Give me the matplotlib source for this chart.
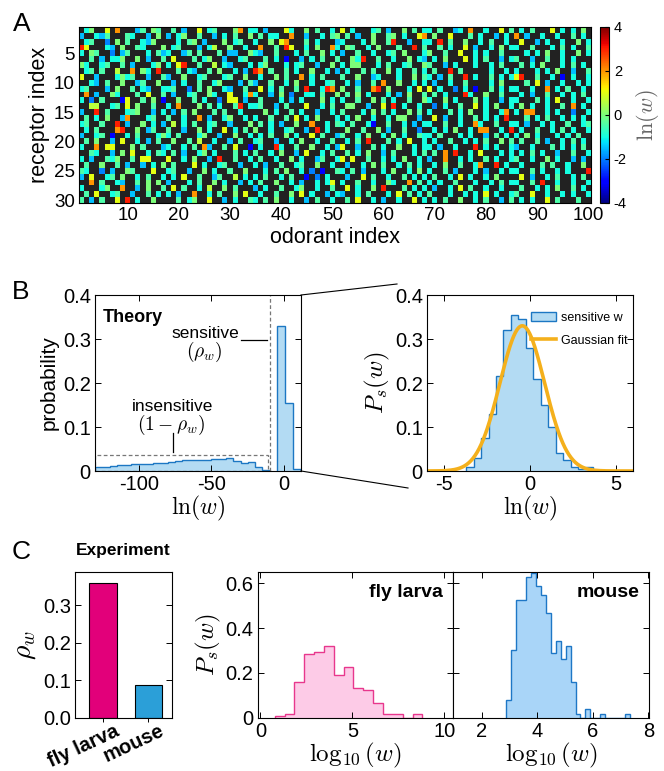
import numpy as np
import matplotlib
matplotlib.use("Agg")
import matplotlib.pyplot as plt
from matplotlib.lines import Line2D
from matplotlib.patches import Patch, Rectangle
from matplotlib.transforms import ScaledTranslation

plt.rcParams["font.family"] = ["Liberation Sans", "DejaVu Sans"]
plt.rcParams["mathtext.fontset"] = "cm"
plt.rcParams["axes.unicode_minus"] = False
plt.rcParams["axes.linewidth"] = 0.8

# ── A: sensitivity matrix, one string per receptor, one char per odorant ──
# '.' = insensitive (black), other chars = ln(w) level
LEVELS = {"1": -3.0, "2": -2.0, "3": -1.5, "4": -1.0, "5": -0.45, "6": 0.0,
          "7": 0.6, "8": 1.0, "9": 2.0, "r": 3.0}

cols_01_17 = [
    ".46..8.9...35.65.", "3..435...54..3.6.", ".45..2.6.5..436..", "r8...43.6..54...6",
    "4.65..2.35...4.53", "..5.3.446..6.3..5", "64..45..5.3...46.", ".45.5..7..9.64.r.",
    "8..3...4645..3..5", "..43.5..6..35..6.", "45...3.6..5.43..4", ".9.3..64...5.8..5",
    "4.2.5...18..5.6.1", "..77..45.8.6..5..", "3..r.5...456..3.4", ".5.4.6..39...45..",
    "45..5..r.3..6.4.3", ".4.5...9r..6.35..", "3..45.1..4.5...46", ".5.6..3.8..4.3.5.",
    "4..9.88...6.5...3", "..54..3.6.8..4.54", "4.3..546..5.88...", ".5..6..5.3..3.4.6",
    "54..2.3..65...8..", "3.8..45.6..4.5..4", "..9.5..43..5.6.6.", "4...46..9..3.6..5",
    ".5.8..45..3..5.4.", "5.3.5..8.r.4..6..",
]
cols_18_34 = [
    ".5.3..8.45...69.4", "3.46..5..3.4.5..6", "..4.56.3...6.45..", ".45...3.47..6..4.",
    "4..35.5...5.33..6", ".8...5.46..3..45.", "4.8r..5..7.43...4", "..5.43..5.6..4.3.",
    "3..6..45...45..6.", ".3.4..5..46...3.5", "45..2.5.6..43..5.", ".3..45..64..8..49",
    "..6..5.4..2.88.3.", "4.9...6.5.4..5r.4", ".3.5.6...5.5..4..", "5..4..9.3..46..4.",
    ".7.4.5..45..3...6", "5..3..6.4..8.4.5.", "4.5...46..3..6..4", ".6..5.7..4..3.5..",
    "4..4.5.93..5.8..1", ".5.3..46.4...5.4.", "8..4.6..3.r..5..4", ".5...8.4..45..3..",
    "45..3..6.4..5..6.", ".4.8..5..35..7.4.", "3...4.5..6.4..3.4", ".8.5..4.7..6.5...",
    "4.3..9..4.5..6.8.", "..5.46..8..3.4..5",
]
cols_35_51 = [
    "4.3...84..6.5..4.", ".5.44..9..3..4.56", "4..6.89...5.4...3", ".9..5.r8..4.6..94",
    "43..5...4.5..6.4.", "..5.4.1..3.4.5..5", ".46...4.45..3..6.", "r9.5..5.4..6..4.3",
    ".4..6.5..9.4.5...", "3..5..4.6..4..45.", ".8.4.5..5.r..4r9.", "4..3.6.2..44.5..6",
    ".5...4.3.4...6.4.", "45..3.5...8..4.5.", "..6.4..5.4..3..4.", "4..5..5.8.4.6...4",
    ".5.4.3..6..9..4.5", "6..4..45..3.r.4..", ".4.5..6.4..8.5..3", "45..3..4.6..4..5.",
    ".4..r4..5..6..4.3", "5..4.6..3.8..4.5.", ".5..4..6.4..35..4", "4.3..5..45..6..4.",
    "..4.5.6..4.2.1..5", "4.5..4.5..1.2.4..", ".5..6..4.3..4.48.", "3.4..5..46..4..5.",
    ".4..5..6.8.4..3.4", "4.5.6..4..3.5..4.",
]
cols_52_68 = [
    "8.4...45.3..6.5.4", ".5.3..6..56.4..89", "4...4.6..5r..3..4", ".65..4.6...5..r.5",
    "3..5..4..45.6...4", "..64r..5..4..6.43", "4.66...4.5..45..6", ".4..5.5..6.4..5.4",
    "5..6..34...4..6.5", ".4.3..5.9..6..4.4", "6..5..9r.6...4.8.", ".5.6.4...4.3.6..5",
    "4..5..6.5.4..5..6", ".66..3..8.r.4..4.", "5...4.6.5.4..6.5.", ".4.6..4..4.66..3.",
    "4.5..41..5..4.3.4", ".6..5..6.3..5..2.", "5..4.6..4.6.4..54", ".4.5.r...5.4.8..4",
    "8..3..5.4..6..4.4", ".5.4.6..3.5...4.5", "8.8..5..4.4.6..4.", ".3..4.6.5..4.5.4.",
    "4.5.3...4.6..4.6.", ".3..8.5..4..5.4.4", "4..5..4..64..9.5.", ".8.4..6.r...5.4.4",
    "3..4.5...4.8.5.4.", ".5.8..4.3..4..8.4",
]
cols_69_85 = [
    "4.5..34.9..4..8.5", ".6..8...5.4..3.4.", "4.r.5..6..4.5..4.", "..5.4..8.3..4.6.4",
    "6..5..8..4.4..5..", ".4.6...8.4.5..3.4", "5..3.4...4..4.5..", ".5..r.5.....4..4.",
    "4.3.5..r.4..5.4.4", ".3..4..5....4.6..", "8.4..2.4.1..5.4.4", ".5.4...r4..6..5..",
    "4..6.4...6.4..3.4", ".2.4..5..8.4.6..4", "4...5.4.6..4..49.", ".8.3..4..5.4.4.r.",
    "4..5..4..94..5..4", ".4.4.6..4.99..4.r", "4.5...4.4..3.5.4.", ".4..5..4.4.5..6.5",
    "4.3..4...r.4.4..4", ".5.9.r..4.8...4.4", "3..9..4.4..5.4..4", ".4.6..5..49..r.4.",
    "4..5.3...4.3..4.4", ".5..4.8.4..4.6...", "4.4..5...4..4.5.4", ".3..4.8.5..4..4..",
    "5...4..4.4.8.4..4", ".4.5..6..4.5..3.5",
]
cols_86_100 = [
    ".4.5...8.4.4.6.", "9.3..4..4..5.4.", ".8..3.4..4..6.4", "4..5...4.5.4..5",
    "..4.4.6..4..6.4", "5..3..5..4.4...", ".5.4.6...4.5.4.", "4...4.4.6..3..5",
    "8r..5..4.1.4..4", "..5.8.3..4..4.4", "4..4..9.4.5..4.", ".4.3..5..4.4.5.",
    "4...5.4.8..4..4", ".6.4..4..5.9.4.", "4.99..4.4..2..4", "..5.4.5..4.4.4.",
    "4.3..4.4..5..45", ".4..5..4.5.4..4", "4.6.4...4.4.5..", ".5..5.3..4.5.4.",
    "3..4...5.4.4.5.", ".4.5.4..3..5..4", "5..4..6.4..3.3.", ".4...5.5..4..6.",
    "4..5.4..4.4...r", ".8.3..4.5..4.5.", "4..5.r..4..4..4", ".5..4.4.6..5.4.",
    "5..8..4..4.4..4", ".4.4..8.5...5..",
]

# ── B: theory histograms ──
insens_edges = np.arange(-130, -9, 5)
insens_prob = [0.008, 0.009, 0.011, 0.013, 0.014, 0.015, 0.015, 0.017, 0.018, 0.019,
               0.020, 0.022, 0.025, 0.025, 0.026, 0.026, 0.027, 0.028, 0.029, 0.023,
               0.019, 0.021, 0.008, 0.002]
sens_edges = [-5.0, 0.5, 6.0, 11.5]
sens_prob = [0.33, 0.155, 0.005]

zoom_edges = -3.72 + 0.435 * np.arange(18)
zoom_dens = [0.008, 0.03, 0.075, 0.13, 0.215, 0.32, 0.355, 0.345, 0.28, 0.21,
             0.15, 0.10, 0.04, 0.025, 0.01, 0.005, 0.008]
fit_amp, fit_mu, fit_sigma = 0.33, -0.45, 1.3

# ── C: experiment ──
species = ["fly larva", "mouse"]
rho_w = [0.359, 0.087]
bar_colors = ["#E2007A", "#2B9FD8"]

fly_edges = 0.78 + 0.535 * np.arange(16)
fly_dens = [0.007, 0.015, 0.161, 0.285, 0.293, 0.322, 0.191, 0.224, 0.131, 0.124,
            0.064, 0.016, 0.016, 0.0, 0.015]
mouse_edges = 2.885 + 0.1777 * np.arange(26)
mouse_dens = [0.081, 0.30, 0.525, 0.525, 0.627, 0.645, 0.588, 0.548, 0.466, 0.287,
              0.343, 0.264, 0.319, 0.16, 0.018, 0.0, 0.04, 0.0, 0.0, 0.018,
              0.0, 0.0, 0.0, 0.0, 0.018]

W, H = 664, 771
TICK = 14.5


def px_axes(fig, x0, y0, x1, y1):
    """axes from pixel box (top-left origin)"""
    return fig.add_axes([x0 / W, 1 - y1 / H, (x1 - x0) / W, (y1 - y0) / H])


def style(ax, size=TICK):
    ax.tick_params(direction="in", length=4, width=0.7, labelsize=size,
                   top=True, right=True, pad=3)


fig = plt.figure(figsize=(W / 100, H / 100), dpi=100)

# ── Panel A ──
blocks = [cols_01_17, cols_18_34, cols_35_51, cols_52_68, cols_69_85, cols_86_100]
rows = ["".join(parts).ljust(100, ".")[:100] for parts in zip(*blocks)]
mat = np.array([[LEVELS.get(ch, np.nan) for ch in r] for r in rows])

cmap = plt.get_cmap("jet").copy()
cmap.set_bad("#222222")
axA = px_axes(fig, 79, 27, 591, 203)
im = axA.imshow(np.ma.masked_invalid(mat), cmap=cmap, vmin=-4, vmax=4, aspect="auto",
                interpolation="nearest", extent=(0.5, 100.5, 30.5, 0.5))
axA.set_xticks(np.arange(10, 101, 10))
axA.set_yticks(np.arange(5, 31, 5))
axA.tick_params(direction="in", length=0, labelsize=13.5, pad=3)
axA.set_xlabel("odorant index", fontsize=15.5, labelpad=2)
axA.set_ylabel("receptor index", fontsize=15.5, labelpad=3)

cax = px_axes(fig, 600, 27, 609, 203)
cb = fig.colorbar(im, cax=cax, ticks=[-4, -2, 0, 2, 4])
cb.ax.tick_params(labelsize=10.5, length=3, direction="in")
cb.outline.set_linewidth(0.8)
cb.set_label(r"$\ln(w)$", fontsize=16, color="#666666", labelpad=5)

# ── Panel B left ──
fill_b, edge_b = "#B3DBF3", "#1C77C3"
axB = px_axes(fig, 95, 295, 301, 471)
for vals, edges in [(insens_prob, insens_edges), (sens_prob, sens_edges)]:
    axB.stairs(vals, edges, fill=True, color=fill_b)
    axB.stairs(vals, edges, color=edge_b, lw=1.0)
axB.axvline(-9.5, color="#777777", ls=(0, (3, 2)), lw=0.9)
axB.add_patch(Rectangle((-130, 0), 119, 0.036, fill=False, ec="#777777",
                        ls=(0, (3, 2)), lw=0.9))
axB.plot([-30, -12], [0.298, 0.298], color="black", lw=0.9)
axB.plot([-76.5, -76.5], [0.044, 0.087], color="black", lw=0.9)
axB.text(0.04, 0.87, "Theory", transform=axB.transAxes, fontsize=13,
         fontweight="bold", va="center")
axB.text(-54, 0.313, "sensitive", fontsize=12.5, ha="center", va="center")
axB.text(-55, 0.271, r"$(\rho_w)$", fontsize=14, ha="center", va="center")
axB.text(-77, 0.146, "insensitive", fontsize=12.5, ha="center", va="center")
axB.text(-78, 0.104, r"$(1-\rho_w)$", fontsize=14, ha="center", va="center")
axB.set_xlim(-130, 11.5)
axB.set_ylim(0, 0.4)
axB.set_xticks([-100, -50, 0])
axB.set_yticks([0, 0.1, 0.2, 0.3, 0.4])
axB.set_yticklabels(["0", "0.1", "0.2", "0.3", "0.4"])
style(axB)
axB.set_xlabel(r"$\ln(w)$", fontsize=17, labelpad=0)
axB.set_ylabel("probability", fontsize=15, labelpad=3)

# ── Panel B right ──
axZ = px_axes(fig, 427, 295, 633, 471)
axZ.stairs(zoom_dens, zoom_edges, fill=True, color=fill_b)
axZ.stairs(zoom_dens, zoom_edges, color=edge_b, lw=1.0)
xs = np.linspace(-6, 6, 400)
axZ.plot(xs, fit_amp * np.exp(-(xs - fit_mu) ** 2 / (2 * fit_sigma ** 2)),
         color="#F4B01C", lw=2.6)
axZ.set_xlim(-6, 6)
axZ.set_ylim(0, 0.4)
axZ.set_xticks([-5, 0, 5])
axZ.set_yticks([0, 0.1, 0.2, 0.3, 0.4])
axZ.set_yticklabels(["0", "0.1", "0.2", "0.3", "0.4"])
style(axZ)
axZ.set_xlabel(r"$\ln(w)$", fontsize=17, labelpad=0)
axZ.set_ylabel(r"$P_s(w)$", fontsize=18, labelpad=2)
axZ.legend(handles=[Patch(fc=fill_b, ec=edge_b, label="sensitive w"),
                    Line2D([], [], color="#F4B01C", lw=2.6, label="Gaussian fit")],
           loc="upper right", bbox_to_anchor=(1.03, 0.97), frameon=False,
           fontsize=9, handlelength=2.0, handletextpad=0.4, labelspacing=0.9)

# zoom connector lines
for (x0, y0), (x1, y1) in [((301, 295), (397, 284)), ((301, 471), (408, 488))]:
    fig.add_artist(Line2D([x0 / W, x1 / W], [1 - y0 / H, 1 - y1 / H],
                          color="black", lw=0.8))

# ── Panel C bars ──
axC = px_axes(fig, 75.4, 572, 171.6, 717.7)
axC.bar([0, 1], rho_w, width=0.6, color=bar_colors, edgecolor="black", lw=0.8)
axC.set_xlim(-0.61, 1.51)
axC.set_ylim(0, 0.388)
axC.set_yticks([0, 0.1, 0.2, 0.3])
axC.set_yticklabels(["0.0", "0.1", "0.2", "0.3"])
axC.set_xticks([0, 1])
axC.set_xticklabels(species, rotation=25, ha="right", rotation_mode="anchor",
                    fontsize=8, fontweight="bold")
style(axC)
axC.tick_params(axis="x", direction="out", top=False, length=3, pad=1)
shift = ScaledTranslation(11 / 100, 2 / 100, fig.dpi_scale_trans)
for lbl in axC.get_xticklabels():
    lbl.set_transform(lbl.get_transform() + shift)
axC.set_ylabel(r"$\rho_w$", fontsize=20, labelpad=4)

# ── Panel C histograms ──
axF = px_axes(fig, 257.6, 572, 452.7, 717.7)
axF.stairs(fly_dens, fly_edges, fill=True, color="#FDCBE7")
axF.stairs(fly_dens, fly_edges, color="#E8378D", lw=1.0)
axF.set_xlim(-0.15, 10.45)
axF.set_ylim(0, 0.65)
axF.set_xticks([0, 5, 10])
axF.set_yticks([0, 0.2, 0.4, 0.6])
axF.set_yticklabels(["0", "0.2", "0.4", "0.6"])
style(axF)
axF.text(0.95, 0.86, "fly larva", transform=axF.transAxes, fontsize=14,
         fontweight="bold", ha="right", va="center")
axF.set_xlabel(r"$\log_{10}(w)$", fontsize=18, labelpad=0)
axF.set_ylabel(r"$P_s(w)$", fontsize=18, labelpad=2)

axM = px_axes(fig, 452.7, 572, 649.3, 717.7)
axM.stairs(mouse_dens, mouse_edges, fill=True, color="#A9D5F8")
axM.stairs(mouse_dens, mouse_edges, color="#1E77C6", lw=1.0)
axM.set_xlim(0.95, 8.03)
axM.set_ylim(0, 0.65)
axM.set_xticks([2, 4, 6, 8])
axM.set_yticks([0, 0.2, 0.4, 0.6])
style(axM)
axM.tick_params(labelleft=False)
axM.text(0.95, 0.86, "mouse", transform=axM.transAxes, fontsize=14,
         fontweight="bold", ha="right", va="center")
axM.set_xlabel(r"$\log_{10}(w)$", fontsize=18, labelpad=0)

# panel letters and headers
fig.text(22 / W, 1 - 24 / H, "A", fontsize=19, ha="center", va="center")
fig.text(21 / W, 1 - 292 / H, "B", fontsize=19, ha="center", va="center")
fig.text(21 / W, 1 - 552 / H, "C", fontsize=19, ha="center", va="center")
fig.text(76 / W, 1 - 551 / H, "Experiment", fontsize=12.5, fontweight="bold",
         va="center")

fig.savefig("out.png", dpi=100)
